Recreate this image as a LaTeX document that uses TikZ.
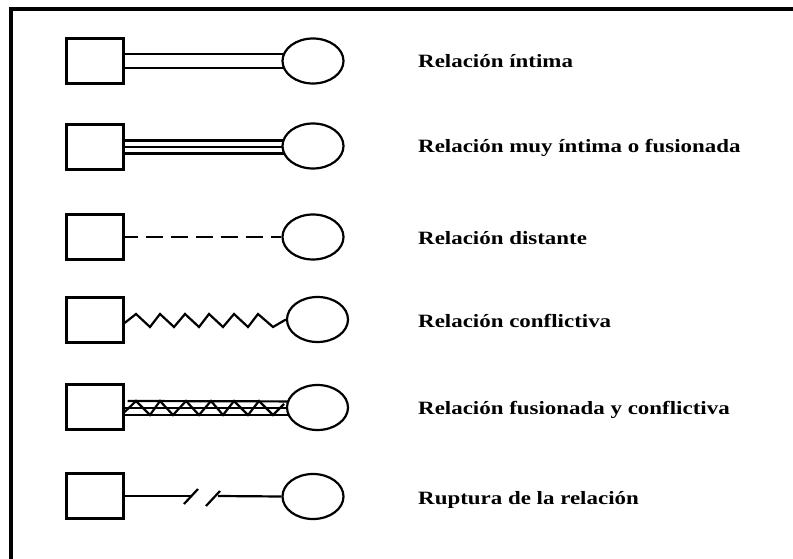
\documentclass[tikz,border=0pt]{standalone}
\usepackage{fontspec}
\newfontfamily\labfont[FakeStretch=1.22]{Liberation Serif}
\usetikzlibrary{backgrounds,calc,shapes.geometric}
\begin{document}
\begin{tikzpicture}[x=1pt,y=-1pt,
  sq/.style={draw, line width=2.2pt, minimum width=57pt, minimum height=45pt, inner sep=0pt, fill=white},
  el/.style={draw, ellipse, line width=2.2pt, minimum width=61pt, minimum height=45pt, inner sep=0pt, fill=white},
  rel/.style={line width=2.2pt},
  lab/.style={anchor=base west, inner sep=0pt, font=\labfont\bfseries\fontsize{18.8}{20}\selectfont}]
\useasboundingbox (0,0) rectangle (793,559);
% frame
\coordinate (fb) at (10.5,559);
\coordinate (fc) at (10.5,9);
\coordinate (fr) at (793,9);
\draw[line width=4pt] (fb) -- (fc) -- (fr);

% shapes
\node[sq] (s1) at (95,61) {};
\node[el] (e1) at (313,61) {};
\node[sq] (s2) at (95,147) {};
\node[el] (e2) at (313,146) {};
\node[sq] (s3) at (95,237) {};
\node[el] (e3) at (313,237) {};
\node[sq] (s4) at (95,320) {};
\node[el] (e4) at (317.5,319.5) {};
\node[sq] (s5) at (95,407) {};
\node[el] (e5) at (317.5,407.5) {};
\node[sq] (s6) at (95,496) {};
\node[el] (e6) at (313,496.5) {};

% labels
\node[lab] (t1) at (418,68) {Relación íntima};
\node[lab] (t2) at (418,153) {Relación muy íntima o fusionada};
\node[lab] (t3) at (418,244) {Relación distante};
\node[lab] (t4) at (418,327) {Relación conflictiva};
\node[lab] (t5) at (418,414) {Relación fusionada y conflictiva};
\node[lab] (t6) at (418,504) {Ruptura de la relación};

% break points
\coordinate (b1) at (191,496);
\coordinate (b2) at (218,496);
\coordinate (k1a) at (184,504);
\coordinate (k1b) at (198,489);
\coordinate (k2a) at (206,506);
\coordinate (k2b) at (220,491);

\begin{scope}[on background layer]
% row 1: close
\draw[rel] ($(s1.east)+(0,-7)$) -- ($(e1.center)+(0,-7)$);
\draw[rel] ($(s1.east)+(0,7)$) -- ($(e1.center)+(0,7)$);
% row 2: very close / fused
\draw[rel] ($(s2.east)+(0,-6.5)$) -- ($(e2.center)+(0,-5.5)$);
\draw[rel] ($(s2.east)+(0,0)$) -- ($(e2.center)+(0,1)$);
\draw[rel] ($(s2.east)+(-3,6.5)$) -- ($(e2.center)+(0,7.5)$);
% row 3: distant
\draw[rel, dash pattern=on 17pt off 8pt, dash phase=4pt] (s3.east) -- (e3.west);
% row 4: conflict
\draw[rel, line join=miter] ($(s4.east)+(0,3)$) -- (136,314) -- (150,327) -- (160,314) -- (174,327)
  -- (185,314) -- (199,327) -- (209,314) -- (223,327) -- (234,314) -- (248,327)
  -- (258,314) -- (273,327) -- (e4.west);
% row 5: fused and conflict
\draw[rel] ($(s5.east)+(3,-6)$) -- ($(e5.center)+(0,-6)$);
\draw[rel] ($(s5.east)+(-1,1)$) -- ($(e5.center)+(0,0.5)$);
\draw[rel] ($(s5.east)+(-1,8)$) -- ($(e5.center)+(0,7.5)$);
\draw[rel, line join=miter] ($(s5.east)+(0,5)$) -- (136,401) -- (150,415) -- (160,401) -- (173,415)
  -- (186,401) -- (199,415) -- (211,401) -- (223,415) -- (234,401) -- (248,415)
  -- (259,401) -- (273,415) -- (284,404);
% row 6: rupture
\draw[rel] (s6.east) -- (b1);
\draw[rel] (b2) -- (e6.west);
\end{scope}
\draw[rel] (k1a) -- (k1b);
\draw[rel] (k2a) -- (k2b);
\end{tikzpicture}
\end{document}
